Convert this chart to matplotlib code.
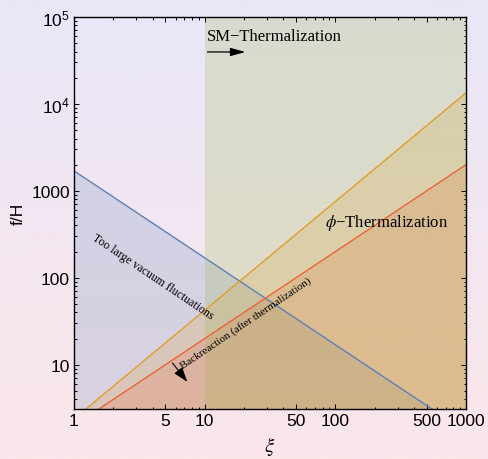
import numpy as np
import matplotlib
matplotlib.use("Agg")
import matplotlib.pyplot as plt
from matplotlib.colors import LinearSegmentedColormap

# data
xi = np.logspace(0, 3, 200)
blue_coef, blue_pow = 1700.0, -1.0     # too large vacuum fluctuations
orange_coef, orange_pow = 2.38, 1.25   # phi thermalization
red_coef, red_pow = 2.0, 1.0           # backreaction
sm_xi = 10.0                            # SM thermalization threshold

x_ticks = [1, 5, 10, 50, 100, 500, 1000]
x_labels = ["1", "5", "10", "50", "100", "500", "1000"]
y_ticks = [10, 100, 1000, 1e4, 1e5]
y_labels = ["10", "100", "1000", r"$\mathregular{10^4}$", r"$\mathregular{10^5}$"]

c_blue = "#5E81B5"
c_orange = "#E19C24"
c_green = "#8FB032"
c_red = "#EB6235"

plt.rcParams['font.family'] = ['Liberation Sans', 'DejaVu Sans']
plt.rcParams['mathtext.fontset'] = 'stix'

fig = plt.figure(figsize=(4.88, 4.60), dpi=100)

# gradient background
bg = fig.add_axes([0, 0, 1, 1])
bg.axis("off")
cmap = LinearSegmentedColormap.from_list("bg", ["#E9E6F8", "#FBE6EA"])
bg.imshow(np.linspace(0, 1, 256).reshape(-1, 1), aspect="auto", cmap=cmap,
          extent=[0, 1, 0, 1])
bg.set_xlim(0, 1)
bg.set_ylim(0, 1)

ax = fig.add_axes([74/488, 50/460, 392/488, 392/460])
ax.set_facecolor("none")
ax.set_xscale("log")
ax.set_yscale("log")
ax.set_xlim(1, 1000)
ax.set_ylim(3.1, 1e5)

y_blue = blue_coef * xi**blue_pow
y_orange = orange_coef * xi**orange_pow
y_red = red_coef * xi**red_pow
ymin = 1.0

ax.fill_between(xi, ymin, y_blue, color=c_blue, alpha=0.2, lw=0)
ax.fill_between(xi, ymin, y_orange, color=c_orange, alpha=0.2, lw=0)
ax.fill_between(xi, ymin, y_red, color=c_red, alpha=0.2, lw=0)
ax.fill_between([sm_xi, 1000], ymin, 1e6, color=c_green, alpha=0.2, lw=0)

ax.plot(xi, y_blue, color=c_blue, lw=1.0)
ax.plot(xi, y_orange, color=c_orange, lw=1.0)
ax.plot(xi, y_red, color=c_red, lw=1.0)

# ticks
ax.xaxis.set_major_locator(matplotlib.ticker.FixedLocator(x_ticks))
ax.xaxis.set_major_formatter(matplotlib.ticker.FixedFormatter(x_labels))
minor_x = [v * d for d in [1, 10, 100] for v in range(2, 10) if v * d not in x_ticks]
ax.xaxis.set_minor_locator(matplotlib.ticker.FixedLocator(minor_x))
ax.xaxis.set_minor_formatter(matplotlib.ticker.NullFormatter())
ax.yaxis.set_major_locator(matplotlib.ticker.FixedLocator(y_ticks))
ax.yaxis.set_major_formatter(matplotlib.ticker.FixedFormatter(y_labels))
ax.yaxis.set_minor_locator(matplotlib.ticker.LogLocator(base=10, subs=range(2, 10)))
ax.yaxis.set_minor_formatter(matplotlib.ticker.NullFormatter())
ax.tick_params(which="both", direction="in", top=True, right=True,
               labelsize=12.5, width=0.7, pad=3)
ax.tick_params(which="major", length=3.5)
ax.tick_params(which="minor", length=1.8)
for s in ax.spines.values():
    s.set_linewidth(1.0)

ax.set_xlabel(r"$\xi$", fontsize=15, labelpad=4)
ax.set_ylabel("f/H", fontsize=12.5, labelpad=4)

serif = ['Liberation Serif', 'DejaVu Serif']
ax.text(10.4, 6.0e4, "SM\u2212Thermalization", family=serif, fontsize=12,
        ha="left", va="center")
ax.annotate("", xy=(21.5, 3.96e4), xytext=(10, 3.96e4),
            arrowprops=dict(arrowstyle="-|>,head_length=0.9,head_width=0.25",
                            color="black", lw=0.9))
ax.text(245, 440, r"$\phi$" + "\u2212Thermalization", family=serif, fontsize=12,
        ha="center", va="center")
ax.text(4.0, 105, "Too large vacuum fluctuations", family=serif, fontsize=8.5,
        ha="center", va="center", rotation=-34, rotation_mode="anchor")
ax.text(20.6, 30.4, "Backreaction (after thermalization)", family=serif,
        fontsize=8, ha="center", va="center", rotation=34, rotation_mode="anchor")
ax.annotate("", xy=(7.6, 6.0), xytext=(5.5, 11.1),
            arrowprops=dict(arrowstyle="-|>,head_length=0.9,head_width=0.3",
                            color="black", lw=0.8))

fig.savefig("out.png", dpi=100)
